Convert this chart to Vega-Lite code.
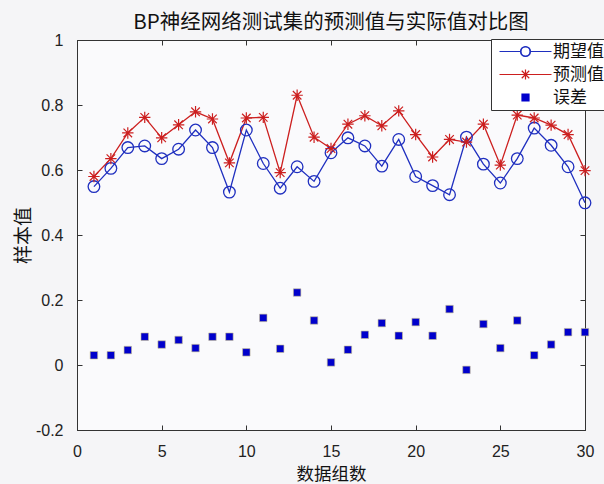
{
  "$schema": "https://vega.github.io/schema/vega-lite/v6.json",
  "width": 508,
  "height": 390,
  "autosize": "none",
  "padding": {"left": 77, "top": 40, "right": 19, "bottom": 54},
  "background": "#f5f5f7",
  "title": {"text": "BP神经网络测试集的预测值与实际值对比图", "font": "Noto Sans CJK SC", "fontSize": 20.5, "fontWeight": "normal", "color": "#111", "offset": -1, "anchor": "middle"},
  "config": {
    "view": {"stroke": "#333", "fill": "#fafafc"},
    "axis": {"labelFont": "Liberation Sans", "labelFontSize": 16, "labelColor": "#222", "tickColor": "#333", "domainColor": "#333", "grid": false, "titleFont": "Noto Sans CJK SC", "titleFontSize": 19, "titleFontWeight": "normal", "titleColor": "#111", "tickSize": -5, "labelFlush": false}
  },
  "data": {"values": [
    {"组": 1, "期望值": 0.549, "预测值": 0.580, "误差": 0.030},
    {"组": 2, "期望值": 0.605, "预测值": 0.635, "误差": 0.030},
    {"组": 3, "期望值": 0.669, "预测值": 0.714, "误差": 0.046},
    {"组": 4, "期望值": 0.674, "预测值": 0.762, "误差": 0.087},
    {"组": 5, "期望值": 0.635, "预测值": 0.699, "误差": 0.063},
    {"组": 6, "期望值": 0.664, "预测值": 0.739, "误差": 0.077},
    {"组": 7, "期望值": 0.723, "预测值": 0.779, "误差": 0.052},
    {"组": 8, "期望值": 0.669, "预测值": 0.757, "误差": 0.087},
    {"组": 9, "期望值": 0.532, "预测值": 0.622, "误差": 0.087},
    {"组": 10, "期望值": 0.723, "预测值": 0.760, "误差": 0.039},
    {"组": 11, "期望值": 0.620, "预测值": 0.762, "误差": 0.145},
    {"组": 12, "期望值": 0.544, "预测值": 0.592, "误差": 0.050},
    {"组": 13, "期望值": 0.610, "预测值": 0.830, "误差": 0.223},
    {"组": 14, "期望值": 0.565, "预测值": 0.701, "误差": 0.137},
    {"组": 15, "期望值": 0.653, "预测值": 0.666, "误差": 0.008},
    {"组": 16, "期望值": 0.699, "预测值": 0.741, "误差": 0.047},
    {"组": 17, "期望值": 0.674, "预测值": 0.767, "误差": 0.093},
    {"组": 18, "期望值": 0.612, "预测值": 0.736, "误差": 0.129},
    {"组": 19, "期望值": 0.694, "预测值": 0.782, "误差": 0.090},
    {"组": 20, "期望值": 0.580, "预测值": 0.709, "误差": 0.132},
    {"组": 21, "期望值": 0.552, "预测值": 0.640, "误差": 0.090},
    {"组": 22, "期望值": 0.524, "预测值": 0.694, "误差": 0.172},
    {"组": 23, "期望值": 0.701, "预测值": 0.686, "误差": -0.015},
    {"组": 24, "期望值": 0.618, "预测值": 0.741, "误差": 0.126},
    {"组": 25, "期望值": 0.560, "预测值": 0.615, "误差": 0.052},
    {"组": 26, "期望值": 0.635, "预测值": 0.769, "误差": 0.137},
    {"组": 27, "期望值": 0.729, "预测值": 0.760, "误差": 0.030},
    {"组": 28, "期望值": 0.676, "预测值": 0.738, "误差": 0.063},
    {"组": 29, "期望值": 0.610, "预测值": 0.709, "误差": 0.101},
    {"组": 30, "期望值": 0.499, "预测值": 0.598, "误差": 0.101}
  ]},
  "transform": [{"fold": ["期望值", "预测值", "误差"], "as": ["系列", "值"]}],
  "resolve": {"axis": {"x": "independent", "y": "independent"}},
  "layer": [
    {
      "transform": [{"filter": "datum['系列'] !== '误差'"}],
      "mark": {"type": "line", "strokeWidth": 1.3},
      "encoding": {
        "x": {"field": "组", "type": "quantitative", "scale": {"domain": [0, 30], "nice": false}, "axis": {"orient": "bottom", "values": [0, 5, 10, 15, 20, 25, 30], "title": "数据组数", "titlePadding": 6, "titleFontSize": 17.5, "labelPadding": 18}},
        "y": {"field": "值", "type": "quantitative", "scale": {"domain": [-0.2, 1], "nice": false, "zero": false}, "axis": {"orient": "left", "values": [-0.2, 0, 0.2, 0.4, 0.6, 0.8, 1], "labelExpr": "replace(format(datum.value, '~g'), '−', '-')", "title": "样本值", "titlePadding": 2, "labelPadding": 19}},
        "color": {"field": "系列", "type": "nominal", "scale": {"domain": ["期望值", "预测值", "误差"], "range": ["#1f2fbf", "#cc1f1f", "#0000cc"]},
          "legend": {"orient": "none", "legendX": 414, "legendY": -1, "title": null, "strokeColor": "#333", "fillColor": "#ffffff", "padding": 4, "labelFont": "Noto Sans CJK SC", "labelFontSize": 17, "labelColor": "#111", "symbolSize": 100, "symbolOffset": 22, "labelOffset": 19, "rowPadding": 5, "symbolStrokeWidth": 1.2,
            "encode": {"symbols": {"update": {
              "shape": {"signal": "datum.value === '期望值' ? 'M-5.2,0L-1,0M1,0L5.2,0M-1,0A1,1 0 1,1 1,0A1,1 0 1,1 -1,0ZM-0.9,0A0.9,0.9 0 1,0 0.9,0A0.9,0.9 0 1,0 -0.9,0Z' : datum.value === '预测值' ? 'M-5.2,0L5.2,0M0,-1L0,1M-0.75,-0.75L0.75,0.75M-0.75,0.75L0.75,-0.75' : 'M-0.7,-0.7L0.7,-0.7L0.7,0.7L-0.7,0.7Z'"},
              "opacity": {"value": 1}
            }}}}}
      }
    },
    {
      "transform": [{"filter": "datum['系列'] === '期望值'"}],
      "mark": {"type": "point", "shape": "circle", "filled": false, "size": 135, "strokeWidth": 1.3, "opacity": 1},
      "encoding": {
        "x": {"field": "组", "type": "quantitative", "axis": null},
        "y": {"field": "值", "type": "quantitative", "axis": null},
        "color": {"field": "系列", "type": "nominal"}
      }
    },
    {
      "transform": [{"filter": "datum['系列'] === '预测值'"}],
      "mark": {"type": "point", "shape": "M-1,0L1,0M0,-1L0,1M-0.75,-0.75L0.75,0.75M-0.75,0.75L0.75,-0.75", "filled": false, "size": 130, "strokeWidth": 1.2, "opacity": 1},
      "encoding": {
        "x": {"field": "组", "type": "quantitative", "axis": null},
        "y": {"field": "值", "type": "quantitative", "axis": null},
        "color": {"field": "系列", "type": "nominal"}
      }
    },
    {
      "transform": [{"filter": "datum['系列'] === '误差'"}],
      "mark": {"type": "square", "filled": true, "size": 56, "opacity": 1, "stroke": "#c8c090", "strokeWidth": 0.6},
      "encoding": {
        "x": {"field": "组", "type": "quantitative", "axis": {"orient": "top", "values": [0, 5, 10, 15, 20, 25, 30], "labels": false, "title": null}},
        "y": {"field": "值", "type": "quantitative", "axis": {"orient": "right", "values": [-0.2, 0, 0.2, 0.4, 0.6, 0.8, 1], "labels": false, "title": null}},
        "color": {"field": "系列", "type": "nominal"}
      }
    }
  ]
}
